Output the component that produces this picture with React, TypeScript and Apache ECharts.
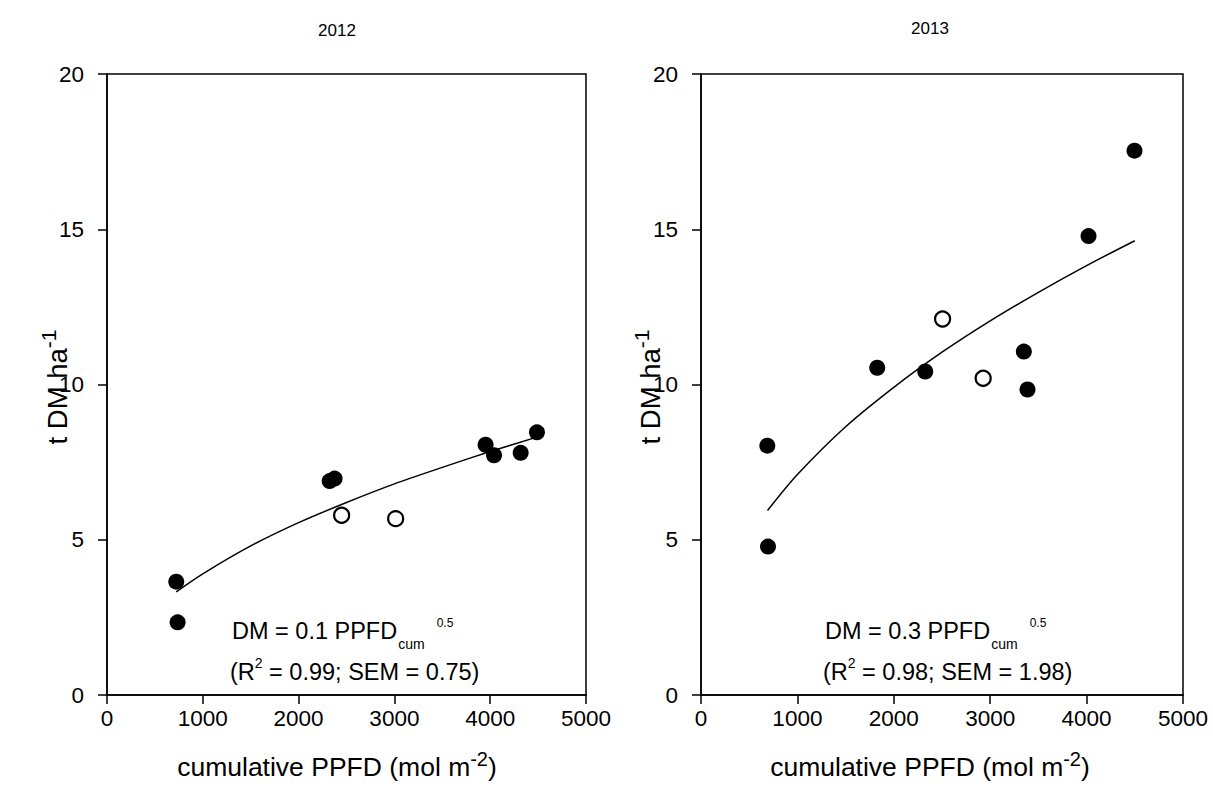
import React, { useEffect, useRef } from "react";
import * as echarts from "echarts";

// ---- 2012 panel data ----
const filled2012X = [723, 737, 2324, 2376, 3952, 4040, 4318, 4488];
const filled2012Y = [3.65, 2.34, 6.89, 6.97, 8.06, 7.72, 7.8, 8.46];
const open2012X = [2449, 3013];
const open2012Y = [5.79, 5.68];
const fit2012X = [723, 1000, 1500, 2000, 2500, 3000, 3500, 4000, 4470];
const fit2012Y = [3.32, 3.9, 4.8, 5.55, 6.2, 6.8, 7.33, 7.84, 8.29];

// ---- 2013 panel data ----
const filled2013X = [688, 695, 1828, 2326, 3349, 3387, 4020, 4497];
const filled2013Y = [8.03, 4.78, 10.54, 10.42, 11.06, 9.84, 14.78, 17.53];
const open2013X = [2506, 2927];
const open2013Y = [12.11, 10.2];
const fit2013X = [690, 1000, 1500, 2000, 2500, 3000, 3500, 4000, 4500];
const fit2013Y = [5.94, 7.1, 8.64, 9.91, 11.04, 12.05, 12.97, 13.83, 14.63];

const panelTitles = ["2012", "2013"];
const eqCoef = ["0.1", "0.3"];
const eqR2 = ["0.99", "0.98"];
const eqSEM = ["0.75", "1.98"];

const xTicks = { min: 0, max: 5000, interval: 1000 };
const yTicks = { min: 0, max: 20, interval: 5 };

const FONT = "Liberation Sans, Arial, sans-serif";

const zip = (xs: number[], ys: number[]) => xs.map((x, i) => [x, ys[i]]);

export default function App() {
  const ref = useRef<HTMLDivElement>(null);
  useEffect(() => {
    if (!ref.current) return;
    const chart = echarts.init(ref.current, null, { renderer: "svg" });
    const grids = [
      { left: 107, top: 74, width: 479, height: 621 },
      { left: 701, top: 74, width: 482, height: 621 },
    ];
    const axisCommon = {
      axisLine: { show: true, onZero: false, lineStyle: { color: "#000", width: 1.5 } },
      axisTick: { show: true, inside: false, length: 9, lineStyle: { color: "#000", width: 1.5 } },
      splitLine: { show: false },
    };
    const fmt = (v: number) => String(v);
    const xAxes = [0, 1].map((i) => ({
      type: "value",
      gridIndex: i,
      ...xTicks,
      ...axisCommon,
      axisLabel: { color: "#000", fontSize: 22.5, fontFamily: FONT, margin: 12, formatter: fmt },
    }));
    const yAxes = [0, 1].map((i) => ({
      type: "value",
      gridIndex: i,
      ...yTicks,
      ...axisCommon,
      axisLabel: { color: "#000", fontSize: 22.5, fontFamily: FONT, margin: 23, formatter: fmt },
    }));
    const filledStyle = { color: "#000", opacity: 1 };
    const openStyle = { color: "#fff", borderColor: "#000", borderWidth: 2.2, opacity: 1 };
    const mkSeries = (i: number, fx: number[], fy: number[], ox: number[], oy: number[], lx: number[], ly: number[]) => [
      {
        type: "line",
        xAxisIndex: i,
        yAxisIndex: i,
        data: zip(lx, ly),
        smooth: 0.3,
        showSymbol: false,
        lineStyle: { color: "#000", width: 1.5 },
        z: 2,
      },
      {
        type: "scatter",
        xAxisIndex: i,
        yAxisIndex: i,
        data: zip(fx, fy),
        symbol: "circle",
        symbolSize: 16,
        itemStyle: filledStyle,
        z: 3,
      },
      {
        type: "scatter",
        xAxisIndex: i,
        yAxisIndex: i,
        data: zip(ox, oy),
        symbol: "circle",
        symbolSize: 15,
        itemStyle: openStyle,
        z: 3,
      },
    ];

    const eqRich = {
      m: { fontSize: 23.5, fontFamily: FONT, color: "#000", lineHeight: 40, verticalAlign: "middle" },
      sub: { fontSize: 14, fontFamily: FONT, color: "#000", verticalAlign: "bottom", padding: [0, 0, 0, 1] },
      sup: { fontSize: 12, fontFamily: FONT, color: "#000", verticalAlign: "top", padding: [6.5, 0, 0, 12] },
      sup2: { fontSize: 14, fontFamily: FONT, color: "#000", verticalAlign: "top", padding: [4, 0, 0, 0] },
    };
    const titleRich = {
      m: { fontSize: 26.5, fontFamily: FONT, color: "#000", lineHeight: 36, verticalAlign: "middle" },
      sup: { fontSize: 20, fontFamily: FONT, color: "#000", verticalAlign: "top" },
    };
    const yTitleRich = {
      m: { fontSize: 27.5, fontFamily: FONT, color: "#000", lineHeight: 38, verticalAlign: "middle" },
      sup: { fontSize: 21, fontFamily: FONT, color: "#000", verticalAlign: "top" },
    };

    const eqX = [232, 825];
    const titleCX = [337, 930];
    const yTitleX = [57, 650];
    const graphic: any[] = [];
    [0, 1].forEach((i) => {
      graphic.push({
        type: "text",
        x: titleCX[i],
        y: 30 - (i === 1 ? 2 : 0),
        style: { text: panelTitles[i], fontSize: 17, fontFamily: FONT, fill: "#000", textAlign: "center", textVerticalAlign: "middle" },
      });
      graphic.push({
        type: "text",
        x: eqX[i],
        y: 630.5,
        style: {
          text: `{m|DM = ${eqCoef[i]} PPFD}{sub|cum}{sup|0.5}`,
          rich: eqRich,
          textAlign: "left",
          textVerticalAlign: "middle",
        },
      });
      graphic.push({
        type: "text",
        x: eqX[i] - 2,
        y: 672,
        style: {
          text: `{m|(R}{sup2|2}{m| = ${eqR2[i]}; SEM = ${eqSEM[i]})}`,
          rich: eqRich,
          textAlign: "left",
          textVerticalAlign: "middle",
        },
      });
      graphic.push({
        type: "text",
        x: titleCX[i],
        y: 767,
        style: {
          text: "{m|cumulative PPFD (mol m}{sup|-2}{m|)}",
          rich: titleRich,
          textAlign: "center",
          textVerticalAlign: "middle",
        },
      });
      graphic.push({
        type: "text",
        x: yTitleX[i],
        y: 387,
        rotation: Math.PI / 2,
        style: {
          text: "{m|t DM ha}{sup|-1}",
          rich: yTitleRich,
          textAlign: "center",
          textVerticalAlign: "middle",
        },
      });
    });

    chart.setOption({
      animation: false,
      backgroundColor: "#fff",
      grid: grids.map((g) => ({ ...g, show: true, borderColor: "#000", borderWidth: 1.5, backgroundColor: "transparent" })),
      xAxis: xAxes,
      yAxis: yAxes,
      series: [
        ...mkSeries(0, filled2012X, filled2012Y, open2012X, open2012Y, fit2012X, fit2012Y),
        ...mkSeries(1, filled2013X, filled2013Y, open2013X, open2013Y, fit2013X, fit2013Y),
      ],
      graphic,
    });
    return () => chart.dispose();
  }, []);
  return <div ref={ref} style={{ width: 1213, height: 805, position: "absolute", left: 0, top: 0 }} />;
}
